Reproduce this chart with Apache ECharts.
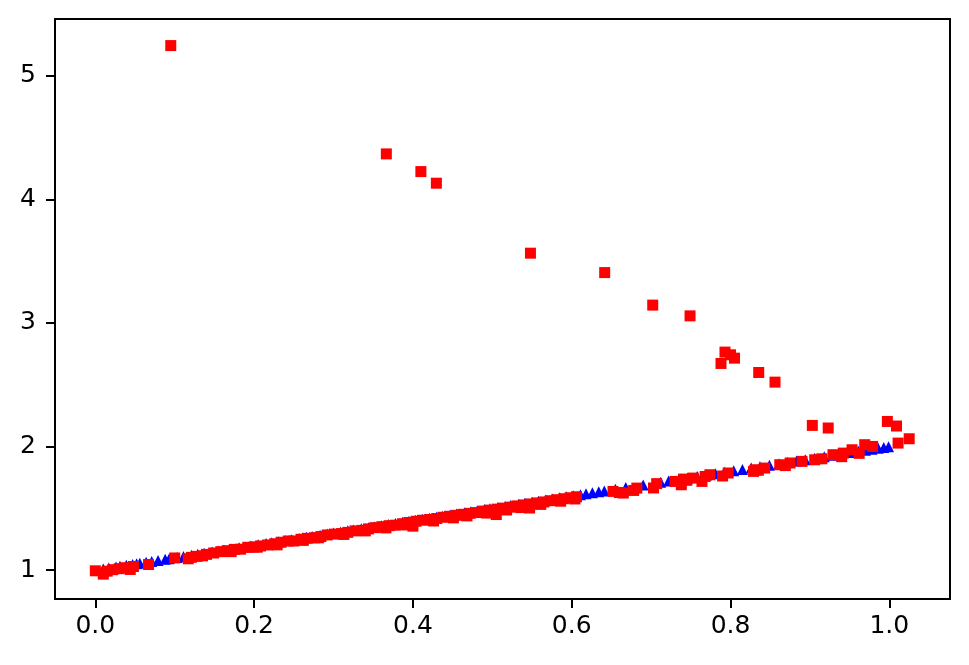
<!DOCTYPE html>
<html>
<head>
<meta charset="utf-8">
<script src="https://cdn.jsdelivr.net/npm/echarts@6/dist/echarts.min.js"></script>
<style>
  html, body { margin: 0; padding: 0; background: #fff; }
  #chart { width: 969px; height: 665px; }
</style>
</head>
<body>
<div id="chart"></div>
<script>
// blue triangles, lying on y = x + 1
const blueX = [0.010, 0.017, 0.026, 0.031, 0.039, 0.047, 0.052, 0.056, 0.064, 0.071, 0.079, 0.088, 0.093, 0.103, 0.111, 0.121, 0.129, 0.137, 0.147, 0.155, 0.162, 0.171, 0.181, 0.188, 0.196, 0.205, 0.215, 0.222, 0.231, 0.240, 0.247, 0.257, 0.266, 0.273, 0.283, 0.292, 0.300, 0.309, 0.318, 0.325, 0.335, 0.344, 0.352, 0.360, 0.369, 0.378, 0.387, 0.395, 0.403, 0.412, 0.421, 0.430, 0.437, 0.447, 0.455, 0.465, 0.473, 0.481, 0.490, 0.497, 0.507, 0.516, 0.523, 0.533, 0.541, 0.550, 0.558, 0.567, 0.576, 0.585, 0.593, 0.602, 0.611, 0.618, 0.626, 0.634, 0.641, 0.655, 0.668, 0.690, 0.712, 0.722, 0.735, 0.746, 0.758, 0.770, 0.781, 0.792, 0.804, 0.815, 0.826, 0.837, 0.849, 0.861, 0.872, 0.883, 0.894, 0.906, 0.918, 0.929, 0.940, 0.951, 0.961, 0.970, 0.978, 0.986, 0.993, 0.999];
const blueY = [1.010, 1.017, 1.026, 1.031, 1.039, 1.047, 1.052, 1.056, 1.064, 1.071, 1.079, 1.088, 1.093, 1.103, 1.111, 1.121, 1.129, 1.137, 1.147, 1.155, 1.162, 1.171, 1.181, 1.188, 1.196, 1.205, 1.215, 1.222, 1.231, 1.240, 1.247, 1.257, 1.266, 1.273, 1.283, 1.292, 1.300, 1.309, 1.318, 1.325, 1.335, 1.344, 1.352, 1.360, 1.369, 1.378, 1.387, 1.395, 1.403, 1.412, 1.421, 1.430, 1.437, 1.447, 1.455, 1.465, 1.473, 1.481, 1.490, 1.497, 1.507, 1.516, 1.523, 1.533, 1.541, 1.550, 1.558, 1.567, 1.576, 1.585, 1.593, 1.602, 1.611, 1.618, 1.626, 1.634, 1.641, 1.655, 1.668, 1.690, 1.712, 1.722, 1.735, 1.746, 1.758, 1.770, 1.781, 1.792, 1.804, 1.815, 1.826, 1.837, 1.849, 1.861, 1.872, 1.883, 1.894, 1.906, 1.918, 1.929, 1.940, 1.951, 1.961, 1.970, 1.978, 1.986, 1.993, 1.999];

// red squares, near the line and the outliers above it
const redX = [0.000, 0.010, 0.022, 0.030, 0.037, 0.044, 0.067, 0.100, 0.117, 0.128, 0.140, 0.149, 0.158, 0.166, 0.175, 0.183, 0.192, 0.200, 0.208, 0.217, 0.226, 0.234, 0.243, 0.250, 0.259, 0.267, 0.276, 0.284, 0.292, 0.301, 0.310, 0.318, 0.327, 0.336, 0.344, 0.352, 0.361, 0.370, 0.378, 0.387, 0.395, 0.400, 0.404, 0.412, 0.421, 0.430, 0.438, 0.446, 0.455, 0.463, 0.472, 0.480, 0.489, 0.497, 0.505, 0.506, 0.514, 0.523, 0.531, 0.540, 0.547, 0.548, 0.556, 0.565, 0.573, 0.581, 0.590, 0.598, 0.606, 0.652, 0.665, 0.678, 0.682, 0.703, 0.707, 0.730, 0.738, 0.741, 0.753, 0.764, 0.768, 0.774, 0.797, 0.829, 0.831, 0.843, 0.862, 0.875, 0.890, 0.906, 0.915, 0.929, 0.942, 0.953, 0.969, 0.979, 1.011, 1.025,
  0.015, 0.048, 0.121, 0.135, 0.171, 0.204, 0.229, 0.262, 0.281, 0.313, 0.340, 0.366, 0.392, 0.426, 0.451, 0.468, 0.493, 0.518, 0.536, 0.561, 0.586, 0.604, 0.660, 0.745, 0.790, 0.835, 0.869, 0.940, 0.962,
  0.095, 0.3665, 0.410, 0.4295, 0.548, 0.6415, 0.702, 0.749, 0.793, 0.800, 0.805, 0.788, 0.8355, 0.856, 0.903, 0.923, 0.9975, 1.009];
const redY = [0.995, 0.968, 1.004, 1.012, 1.020, 1.006, 1.046, 1.099, 1.092, 1.112, 1.128, 1.139, 1.150, 1.158, 1.168, 1.170, 1.185, 1.188, 1.196, 1.204, 1.214, 1.226, 1.236, 1.236, 1.250, 1.258, 1.262, 1.272, 1.285, 1.292, 1.296, 1.306, 1.318, 1.322, 1.334, 1.344, 1.352, 1.360, 1.364, 1.376, 1.386, 1.356, 1.396, 1.404, 1.410, 1.418, 1.428, 1.436, 1.444, 1.452, 1.460, 1.466, 1.478, 1.486, 1.450, 1.494, 1.502, 1.510, 1.520, 1.528, 1.503, 1.536, 1.544, 1.552, 1.562, 1.570, 1.578, 1.586, 1.594, 1.637, 1.624, 1.645, 1.664, 1.665, 1.700, 1.718, 1.691, 1.737, 1.745, 1.718, 1.758, 1.772, 1.786, 1.799, 1.812, 1.826, 1.853, 1.867, 1.880, 1.893, 1.901, 1.934, 1.947, 1.974, 2.015, 2.001, 2.028, 2.063,
  0.992, 1.030, 1.104, 1.116, 1.150, 1.186, 1.205, 1.241, 1.262, 1.289, 1.318, 1.342, 1.366, 1.398, 1.423, 1.439, 1.462, 1.487, 1.506, 1.532, 1.558, 1.576, 1.628, 1.727, 1.762, 1.808, 1.846, 1.918, 1.945,
  5.243, 4.367, 4.224, 4.130, 3.564, 3.407, 3.144, 3.057, 2.764, 2.742, 2.715, 2.672, 2.599, 2.521, 2.171, 2.150, 2.203, 2.166];

const xTicks = [0.0, 0.2, 0.4, 0.6, 0.8, 1.0];
const yTicks = [1, 2, 3, 4, 5];

const chart = echarts.init(document.getElementById('chart'));

const pairs = (xs, ys) => xs.map((x, i) => [x, ys[i]]);

const font = 'DejaVu Sans';

chart.setOption({
  animation: false,
  backgroundColor: '#fff',
  grid: {
    left: 55,
    right: 19,
    top: 19,
    bottom: 66,
    show: true,
    borderColor: '#000',
    borderWidth: 2
  },
  xAxis: {
    type: 'value',
    min: -0.0508,
    max: 1.0764,
    splitLine: { show: false },
    axisLine: { show: true, onZero: false, lineStyle: { color: '#000', width: 2 } },
    axisTick: { show: true, length: 9, lineStyle: { color: '#000', width: 2 }, customValues: xTicks },
    axisLabel: {
      color: '#000',
      fontFamily: font,
      fontSize: 25,
      margin: 15,
      customValues: xTicks,
      formatter: (v) => v.toFixed(1)
    }
  },
  yAxis: {
    type: 'value',
    min: 0.767,
    max: 5.458,
    splitLine: { show: false },
    axisLine: { show: true, onZero: false, lineStyle: { color: '#000', width: 2 } },
    axisTick: { show: true, length: 9, lineStyle: { color: '#000', width: 2 }, customValues: yTicks },
    axisLabel: {
      color: '#000',
      fontFamily: font,
      fontSize: 25,
      margin: 19,
      customValues: yTicks,
      formatter: (v) => String(v)
    }
  },
  series: [
    {
      name: 'line',
      type: 'scatter',
      symbol: 'triangle',
      symbolSize: 11,
      itemStyle: { color: '#0000ff', opacity: 1 },
      data: pairs(blueX, blueY)
    },
    {
      name: 'noisy',
      type: 'scatter',
      symbol: 'rect',
      symbolSize: 11,
      itemStyle: { color: '#ff0000', opacity: 1 },
      data: pairs(redX, redY)
    }
  ]
});
</script>
</body>
</html>
